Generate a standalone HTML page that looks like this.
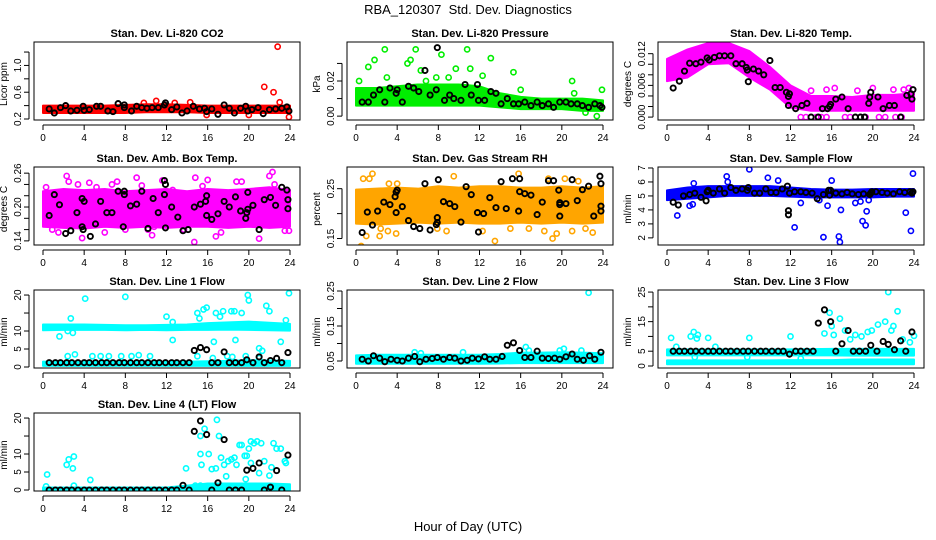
<!DOCTYPE html>
<html><head><meta charset="utf-8"><style>
body{margin:0;background:#fff;}
svg{display:block;font-family:"Liberation Sans",sans-serif;}
</style></head><body>
<svg id="c" width="936" height="540" viewBox="0 0 936 540">
<text x="468" y="14" text-anchor="middle" font-size="13">RBA_120307&#160; Std. Dev. Diagnostics</text>
<text x="468" y="531" text-anchor="middle" font-size="13">Hour of Day (UTC)</text>
</svg>
<script>
const xTicks=[0,4,8,12,16,20,24];
const bandH=[0,2,4,6,8,10,12,14,16,18,20,22,24];
const hrs=[0.6,1.2,1.7,2.3,2.8,3.4,4.0,4.5,5.1,5.7,6.2,6.8,7.4,7.9,8.5,9.1,9.6,10.2,10.8,11.3,11.9,12.5,13.0,13.6,14.2,14.7,15.3,15.9,16.4,17.0,17.6,18.1,18.7,19.3,19.8,20.4,21.0,21.5,22.1,22.7,23.2,23.8];

const p1Lo=[0.29,0.29,0.29,0.29,0.29,0.30,0.30,0.30,0.29,0.29,0.29,0.29,0.29];
const p1Hi=[0.40,0.40,0.40,0.40,0.41,0.42,0.42,0.41,0.40,0.40,0.40,0.40,0.40];
const p1Pts=[[21.5,0.68],[22.4,0.6],[22.8,1.28],[23,0.45],[23.9,0.23],[11,0.47],[14.3,0.45],[9.8,0.44],[15.9,0.26],[20,0.26],[12.8,0.44]];
const p1Blk=[[0.6,0.35],[1.1,0.29],[1.7,0.37],[2.2,0.4],[2.7,0.32],[3.3,0.33],[3.9,0.39],[4,0.33],[4.5,0.34],[5.2,0.39],[5.6,0.39],[6.3,0.32],[6.8,0.31],[7.3,0.43],[7.9,0.41],[7.9,0.37],[8.6,0.32],[9.1,0.39],[9.6,0.37],[10.1,0.36],[10.6,0.37],[11.2,0.37],[11.8,0.41],[11.9,0.44],[12.5,0.34],[13,0.38],[13.5,0.29],[14,0.32],[14.6,0.39],[15.2,0.35],[15.7,0.36],[15.9,0.31],[16.4,0.35],[17,0.27],[17.6,0.41],[18.1,0.36],[18.6,0.29],[19.2,0.36],[19.7,0.39],[19.9,0.32],[20.3,0.34],[20.9,0.37],[21.4,0.28],[22,0.34],[22.6,0.35],[23.2,0.36],[23.7,0.38],[23.9,0.32]];

const p2Lo=[0.006,0.006,0.006,0.006,0.006,0.006,0.006,0.005,0.004,0.004,0.004,0.003,0.003];
const p2Hi=[0.016,0.016,0.017,0.018,0.018,0.018,0.017,0.013,0.011,0.010,0.010,0.010,0.009];
const p2Pts=[[2.8,0.038],[5.8,0.038],[10.8,0.038],[8.3,0.035],[5.3,0.032],[5,0.03],[1.8,0.032],[1.2,0.028],[6.3,0.026],[9.7,0.027],[11.1,0.027],[13.1,0.033],[15.3,0.025],[12.3,0.023],[7.8,0.022],[3,0.022],[0.3,0.02],[16,0.015],[21,0.02],[21.2,0.013],[23.9,0.015],[23.4,0],[22.3,0.002],[9,0.022],[6.8,0.02]];
const p2Blk=[[0.6,0.008],[1.2,0.008],[1.7,0.012],[2.3,0.015],[2.8,0.008],[3.3,0.016],[3.9,0.013],[4,0.015],[4.5,0.008],[5.1,0.017],[5.6,0.016],[6.1,0.014],[6.7,0.026],[7.2,0.012],[7.8,0.015],[7.9,0.039],[8.6,0.009],[9.1,0.012],[9.5,0.01],[10.2,0.009],[10.6,0.018],[11.2,0.012],[11.8,0.018],[11.9,0.009],[12.5,0.009],[13.1,0.014],[13.6,0.013],[14.1,0.007],[14.7,0.01],[15.3,0.007],[15.8,0.007],[16.4,0.008],[17,0.006],[17.6,0.008],[18.1,0.006],[18.7,0.007],[19.2,0.005],[19.8,0.008],[20.4,0.008],[20.9,0.007],[21.5,0.007],[22,0.006],[22.6,0.005],[23.2,0.007],[23.7,0.006],[23.9,0.005]];

const p3Lo=[0.0068,0.0075,0.0100,0.0102,0.0075,0.0052,0.0018,0.0012,0.0012,0.0012,0.0012,0.0012,0.0012];
const p3Hi=[0.0110,0.0128,0.0140,0.0140,0.0125,0.0095,0.0060,0.0040,0.0040,0.0038,0.0042,0.0042,0.0045];
const p3Pts=[[13,0],[13.5,0],[14,0],[14.5,0],[15,0],[15.5,0],[17.3,0],[17.8,0],[18.3,0],[18.8,0],[19.3,0],[20.6,0],[21.2,0],[22.2,0],[22.8,0],[14,0.005],[15.5,0.0052],[16.3,0.0055],[18.5,0.005],[20,0.0055],[22,0.0052],[23.5,0.0055],[23,0.0052]];
const p3Blk=[[0.6,0.0055],[1.2,0.0068],[1.7,0.0087],[2.2,0.0102],[2.8,0.0101],[3.3,0.0104],[3.9,0.0112],[4.1,0.0108],[4.6,0.0113],[5.1,0.0116],[5.6,0.0116],[6.2,0.0116],[6.7,0.0101],[7.3,0.0101],[7.7,0.0094],[7.8,0.0089],[7.9,0.0067],[8.4,0.0091],[8.9,0.0087],[9.4,0.008],[10,0.0107],[10.5,0.0056],[11,0.0056],[11.6,0.0047],[11.8,0.0039],[11.9,0.0044],[11.8,0.0022],[12.5,0.0016],[13.1,0.0022],[13.6,0.0026],[14,0],[14.7,0],[15.1,0.0016],[15.6,0.0016],[15.8,0.002],[15.9,0.0024],[16.4,0.0034],[17,0.0038],[17.6,0.0016],[18.3,0],[18.8,0],[19.2,0],[19.6,0.0026],[19.7,0.0038],[19.8,0.0047],[20.5,0.0038],[21,0.0016],[21.6,0.0022],[22.1,0.0022],[22.7,0],[23.3,0.0041],[23.7,0.0044],[23.8,0.0034],[23.9,0.0052]];

const p4Lo=[0.165,0.163,0.162,0.165,0.163,0.165,0.163,0.165,0.165,0.163,0.165,0.163,0.165];
const p4Hi=[0.228,0.232,0.230,0.232,0.228,0.230,0.232,0.228,0.232,0.230,0.232,0.235,0.230];
const p4Pts=[[0.3,0.235],[0.9,0.16],[1.5,0.155],[2.3,0.255],[2.5,0.245],[3.4,0.24],[3.8,0.145],[4.5,0.243],[5.2,0.235],[6,0.155],[6.7,0.24],[7.2,0.245],[8,0.16],[9.1,0.252],[9.6,0.238],[10.2,0.16],[10.6,0.15],[11.6,0.247],[13.7,0.16],[14.7,0.138],[14.8,0.252],[15.5,0.237],[16,0.248],[16.8,0.148],[18.8,0.245],[19.3,0.245],[21,0.144],[22,0.255],[22.3,0.262],[22.5,0.24],[23.5,0.158],[23.9,0.158],[12.6,0.23],[10.8,0.165],[17.3,0.155]];
const p4Blk=[[0.6,0.185],[1.1,0.222],[1.6,0.204],[2.2,0.153],[2.7,0.158],[3.3,0.19],[3.8,0.165],[3.8,0.215],[3.9,0.16],[4.0,0.21],[4.6,0.148],[5.1,0.17],[5.6,0.21],[6.2,0.19],[6.7,0.19],[7.3,0.228],[7.8,0.165],[7.9,0.222],[7.9,0.228],[8.5,0.202],[9.1,0.205],[9.6,0.228],[10.2,0.162],[10.7,0.215],[11.2,0.19],[11.8,0.247],[11.9,0.24],[11.8,0.222],[11.9,0.163],[12.5,0.2],[13.1,0.182],[13.6,0.158],[14.1,0.16],[14.7,0.2],[15.3,0.205],[15.8,0.21],[15.9,0.22],[15.9,0.185],[16.4,0.178],[17,0.188],[17.6,0.21],[18.1,0.2],[18.7,0.218],[19.2,0.193],[19.7,0.18],[19.8,0.19],[19.9,0.196],[19.9,0.226],[20.4,0.203],[21,0.16],[21.5,0.213],[22.1,0.217],[22.6,0.203],[23.2,0.235],[23.7,0.23],[23.8,0.197],[23.8,0.213]];

const p5Lo=[0.180,0.178,0.180,0.182,0.180,0.182,0.180,0.180,0.182,0.180,0.182,0.180,0.182];
const p5Hi=[0.248,0.250,0.252,0.250,0.255,0.252,0.255,0.255,0.252,0.252,0.255,0.252,0.255];
const p5Pts=[[0.5,0.135],[0.7,0.27],[1,0.155],[1.6,0.28],[1.3,0.27],[2.3,0.155],[2.4,0.17],[3.2,0.26],[3.2,0.13],[3.1,0.165],[3.9,0.16],[4,0.26],[7.9,0.17],[8.8,0.165],[9.5,0.275],[12.3,0.165],[13.5,0.145],[15,0.17],[15.8,0.28],[16.8,0.17],[18.3,0.165],[18.7,0.27],[19.1,0.15],[19.5,0.16],[20.3,0.27],[21,0.165],[21.6,0.265],[22.3,0.17],[23,0.162]];
const p5Blk=[[0.6,0.162],[1.1,0.203],[1.6,0.177],[2.1,0.205],[2.7,0.223],[3.3,0.218],[3.8,0.234],[3.9,0.243],[4,0.247],[3.9,0.202],[4.5,0.214],[5.1,0.186],[5.6,0.174],[6.2,0.17],[6.7,0.26],[7.2,0.167],[7.8,0.178],[7.9,0.182],[7.9,0.192],[8,0.268],[8.5,0.224],[9.1,0.22],[9.6,0.214],[10.2,0.183],[10.7,0.254],[11.2,0.238],[11.8,0.202],[11.9,0.163],[12.4,0.2],[13,0.232],[13.6,0.212],[14.1,0.264],[14.6,0.21],[15.2,0.27],[15.8,0.205],[15.9,0.27],[15.9,0.244],[16.4,0.24],[17,0.237],[17.6,0.198],[18.1,0.223],[18.7,0.266],[19.2,0.266],[19.7,0.247],[19.8,0.218],[19.8,0.195],[19.8,0.222],[20.4,0.22],[21,0.268],[21.5,0.226],[22,0.248],[22.6,0.255],[23.1,0.195],[23.7,0.275],[23.8,0.26],[23.8,0.205],[23.8,0.215]];

const p6Lo=[4.7,4.8,4.9,5.0,5.0,5.0,4.95,4.9,4.9,4.9,4.9,4.95,4.95];
const p6Hi=[5.4,5.6,5.7,5.7,5.7,5.7,5.6,5.5,5.45,5.45,5.5,5.5,5.5];
const p6Pts=[[1,3.6],[2.2,4.3],[2.5,4.4],[5.8,6.4],[8,6.9],[9.8,6.3],[10.8,6.1],[12.4,2.75],[13,4.5],[15.2,2.05],[15.6,4.3],[16,6.1],[16.7,2.1],[16.8,1.7],[16.9,4],[18.3,4.5],[19,3.2],[19.3,2.9],[19.4,3.9],[23.2,3.8],[23.7,2.5],[23.9,6.6],[14.8,4.7],[18.8,4.6],[19.6,4.7],[2.6,5.9],[5.9,6.0]];
const p6Blk=[[0.6,4.55],[1.1,4.35],[1.6,5],[2.2,5.1],[2.7,5.2],[3.3,4.9],[3.8,4.65],[3.9,5.3],[4,5.4],[4.5,5.2],[5.1,5.5],[5.6,5.2],[6.2,5.6],[6.7,5.4],[7.3,5.5],[7.8,5.4],[7.9,5.6],[8.5,5.2],[9,5.2],[9.6,5.5],[10.1,5.25],[10.6,5.25],[11.2,5.5],[11.7,5.7],[11.8,3.95],[11.8,3.65],[11.9,5.2],[12.4,5.3],[13,5.3],[13.5,5.25],[14.1,5.2],[14.6,4.8],[15.2,5.1],[15.7,5.4],[15.8,5.05],[15.9,5.4],[16.4,5.2],[17,5.15],[17.5,5.25],[18,5.15],[18.6,5.1],[19.1,5.15],[19.7,5.1],[19.8,5.2],[19.9,5.3],[20.3,5.3],[20.9,5.25],[21.4,5.2],[22,5.15],[22.6,5.3],[23.1,5.25],[23.6,5.3],[23.8,5.2],[23.9,5.3]];

const p7Lo=[10.2,10.3,10.3,10.3,10.2,10.3,10.2,10.3,10.3,10.4,10.3,10.2,10.1];
const p7Hi=[11.8,11.8,11.8,11.7,11.6,11.6,11.7,11.8,12.2,12.4,12.6,12.3,12.0];
const p7Lo2=[0.3,0.3,0.3,0.3,0.3,0.3,0.3,0.3,0.3,0.3,0.3,0.3,0.3];
const p7Hi2=[1.5,1.4,1.4,1.4,1.4,1.4,1.4,1.5,1.6,1.7,1.9,1.8,1.7];
const p7Pts=[[4.1,19],[8,19.5],[2.7,13.5],[2.4,10],[2.9,9.5],[1.6,8.5],[12,14],[12.6,12.5],[12.6,7.5],[15,15],[15.2,13.5],[15.6,16],[15.9,16.5],[16.6,7],[16.8,15],[17.2,14],[17.5,15.5],[18.3,15.5],[18.6,15.5],[18.7,7.5],[19.3,15],[19.9,20],[20,18.5],[21.7,17],[22,15.5],[23.1,7],[23.6,13],[23.9,20.5],[2.4,3],[3.1,3.5],[4.8,3],[5.6,3],[6.4,3],[7.6,3],[8.6,3],[9.3,3.3],[10.4,3],[15,3],[17.9,3],[18.4,2.8],[19.7,3],[21,5.2],[21.3,4.5],[21,2.5],[16.5,2.5]];
const p7BlkY=[1.2,1.2,1.2,1.2,1.2,1.2,1.2,1.2,1.2,1.2,1.2,1.2,1.2,1.2,1.2,1.2,1.2,1.2,1.2,1.2,1.2,1.2,1.2,1.2,1.2,4.6,5.4,4.8,1.2,1.2,4.2,1.2,1.2,1.2,2.0,1.2,2.8,1.2,1.8,2.4,1.2,4.0];

const p8Lo=[0.042,0.042,0.042,0.042,0.042,0.042,0.042,0.043,0.044,0.044,0.044,0.044,0.044];
const p8Hi=[0.066,0.068,0.068,0.068,0.068,0.068,0.068,0.070,0.074,0.074,0.075,0.074,0.072];
const p8Pts=[[22.6,0.245],[16.5,0.09],[15.9,0.08],[16.8,0.08],[19.8,0.08],[20.2,0.085],[21.9,0.08],[5.7,0.075],[10.4,0.075],[6.3,0.072]];
const p8BlkY=[0.055,0.05,0.065,0.058,0.048,0.055,0.052,0.05,0.058,0.063,0.048,0.055,0.057,0.06,0.055,0.06,0.058,0.05,0.052,0.058,0.056,0.062,0.055,0.055,0.063,0.095,0.102,0.08,0.06,0.06,0.078,0.058,0.057,0.058,0.055,0.062,0.07,0.055,0.052,0.065,0.055,0.075];

const p9Lo=[3.6,3.6,3.6,3.6,3.6,3.6,3.6,3.6,3.6,3.5,3.5,3.5,3.5];
const p9Hi=[5.6,5.6,5.6,5.6,5.6,5.6,5.6,5.7,5.8,5.8,5.8,5.8,5.8];
const p9Lo2=[0.6,0.6,0.6,0.6,0.6,0.6,0.6,0.6,0.6,0.6,0.6,0.6,0.6];
const p9Hi2=[1.9,1.9,1.9,1.9,1.9,1.9,2.0,2.0,2.0,2.2,2.2,2.2,2.2];
const p9Pts=[[0.4,9.5],[0.9,6.5],[2.3,10],[2.6,11.5],[2.9,9.3],[3,10.5],[4,9.5],[8,9.5],[12,10],[15.3,11],[15.8,18],[16.2,10.5],[16.8,16],[17.3,12],[17.8,9],[18.3,10.5],[18.9,10],[19.5,11.5],[19.9,12],[20.5,14],[21.2,15],[21.5,25],[21.8,12],[22,13.5],[22.4,18.5],[22.9,9],[23.6,8],[24,10.2],[4.7,6.5],[16,13.5],[2.7,3],[7.8,3],[13,2.5]];
const p9BlkY=[5,5,5,5,5,5,5,5,5,5,5,5,5,5,5,5,5,5,5,5,4,5,5,5,5,14.5,19,15,5,7.5,12,5,5,5,7,5,8.3,7.3,5.5,8.5,5,11.5];

const p10Lo=[0,0,0,0,0,0,0,0,0,0,0,0,0];
const p10Hi=[0.7,0.7,0.7,0.7,0.7,0.7,0.7,1.2,1.8,1.8,1.8,1.8,1.6];
const p10Pts=[[0.4,4.3],[0.3,1],[2.3,7],[2.5,8.5],[3,9.3],[2.9,6],[3,1.2],[4.6,2.8],[13.9,6],[15.3,10],[15.4,7],[15.3,15],[15.7,17],[16.1,10],[16.4,5.8],[16.8,6],[16.9,19.5],[17.1,15],[17.3,9],[17.6,7],[17.8,3.8],[18,8],[18.3,8.5],[18.6,9],[18.8,7],[19.1,12.5],[19.3,12.5],[19.6,9.5],[19.8,9.5],[19.7,3],[20,11.5],[20.2,7.5],[20.2,13.5],[20.5,13],[20.8,13.5],[21,4.7],[21.2,13],[21.5,8],[22,4],[22.2,6.3],[22.4,13],[22.7,11.5],[23.1,11.5],[23.5,8],[23.6,7.5],[14.8,1.2],[15.3,1.2]];
const p10BlkY=[0,0,0,0,0,0,0,0,0,0,0,0,0,0,0,0,0,0,0,0,0,0,0,1.3,0,16.3,19.2,15.4,0,2,14,0,0,0,5.5,6,7.5,0,0.8,5.4,0,9.7];

const NS='http://www.w3.org/2000/svg';
const svg=document.getElementById('c');
const colL=[34,347,658], rowT=[42,167,290,413], BW=266, BH=78;
function mk(t,a,p){const e=document.createElementNS(NS,t);for(const k in a)e.setAttribute(k,a[k]);(p||svg).appendChild(e);return e;}
function zip(xs,ys){return xs.map((x,i)=>[x,ys[i]]);}

const panels=[
 {c:0,r:0,t:'Stan. Dev. Li-820 CO2',yl:'Licor ppm',y0:0.185,y1:1.35,yt:[0.2,0.4,0.6,0.8,1.0,1.2],lab:['0.2','','0.6','','1.0',''],col:'#ff0000',bands:[[p1Lo,p1Hi]],pts:p1Pts,blk:p1Blk},
 {c:1,r:0,t:'Stan. Dev. Li-820 Pressure',yl:'kPa',y0:-0.0022,y1:0.0422,yt:[0,0.01,0.02,0.03],lab:['0.00','','0.02',''],col:'#00ee00',bands:[[p2Lo,p2Hi]],pts:p2Pts,blk:p2Blk},
 {c:2,r:0,t:'Stan. Dev. Li-820 Temp.',yl:'degrees C',y0:-0.00055,y1:0.01421,yt:[0,0.002,0.004,0.006,0.008,0.01,0.012],lab:['0.000','','','0.006','','','0.012'],col:'#ff00ff',bands:[[p3Lo,p3Hi]],pts:p3Pts,blk:p3Blk},
 {c:0,r:1,t:'Stan. Dev. Amb. Box Temp.',yl:'degrees C',y0:0.1327,y1:0.2709,yt:[0.14,0.16,0.18,0.2,0.22,0.24,0.26],lab:['0.14','','','0.20','','','0.26'],col:'#ff00ff',bands:[[p4Lo,p4Hi]],pts:p4Pts,blk:p4Blk},
 {c:1,r:1,t:'Stan. Dev. Gas Stream RH',yl:'percent',y0:0.137,y1:0.2935,yt:[0.15,0.2,0.25],lab:['0.15','','0.25'],col:'#ffa500',bands:[[p5Lo,p5Hi]],pts:p5Pts,blk:p5Blk},
 {c:2,r:1,t:'Stan. Dev. Sample Flow',yl:'ml/min',y0:1.49,y1:7.07,yt:[2,3,4,5,6,7],lab:['2','3','4','5','6','7'],col:'#0000ff',bands:[[p6Lo,p6Hi]],pts:p6Pts,blk:p6Blk},
 {c:0,r:2,t:'Stan. Dev. Line 1 Flow',yl:'ml/min',y0:-0.28,y1:21.4,yt:[0,5,10,15,20],lab:['0','5','10','','20'],col:'#00ffff',bands:[[p7Lo,p7Hi],[p7Lo2,p7Hi2]],pts:p7Pts,blk:zip(hrs,p7BlkY)},
 {c:1,r:2,t:'Stan. Dev. Line 2 Flow',yl:'ml/min',y0:0.03,y1:0.2529,yt:[0.05,0.1,0.15,0.2,0.25],lab:['0.05','','0.15','','0.25'],col:'#00ffff',bands:[[p8Lo,p8Hi]],pts:p8Pts,blk:zip(hrs,p8BlkY)},
 {c:2,r:2,t:'Stan. Dev. Line 3 Flow',yl:'ml/min',y0:-0.68,y1:25.7,yt:[0,5,10,15,20,25],lab:['0','5','','15','','25'],col:'#00ffff',bands:[[p9Lo,p9Hi],[p9Lo2,p9Hi2]],pts:p9Pts,blk:zip(hrs,p9BlkY)},
 {c:0,r:3,t:'Stan. Dev. Line 4 (LT) Flow',yl:'ml/min',y0:-0.28,y1:21.4,yt:[0,5,10,15,20],lab:['0','5','10','','20'],col:'#00ffff',bands:[[p10Lo,p10Hi]],pts:p10Pts,blk:zip(hrs,p10BlkY)}
];

panels.forEach((p,pi)=>{
  const L=colL[p.c],T=rowT[p.r];
  const X=h=>L+9+h*247/24;
  const Y=v=>T+BH-(v-p.y0)/(p.y1-p.y0)*BH;
  const g=mk('g',{});
  
  
  const tt=mk('text',{x:L+BW/2,y:T-5,'text-anchor':'middle','font-size':'11','font-weight':'bold'},g);tt.textContent=p.t;
  
  
  const cp=mk('clipPath',{id:'cp'+pi},g);mk('rect',{x:L,y:T,width:BW,height:BH},cp);
  const d=mk('g',{'clip-path':'url(#cp'+pi+')'},g);
  p.bands.forEach(b=>{
    let pts=bandH.map((h,i)=>X(h)+','+Y(b[1][i])).concat(bandH.slice().reverse().map((h,j)=>{const i=bandH.length-1-j;return X(h)+','+Y(b[0][i]);}));
    const e=mk('polygon',{points:pts.join(' '),fill:p.col,stroke:p.col,'stroke-width':2,'stroke-linejoin':'round'},d);
    
    
  });
  p.pts.forEach(q=>{const e=mk('circle',{cx:X(q[0]),cy:Y(q[1]),r:2.6,fill:'none',stroke:p.col,'stroke-width':1.6},d);
    
    });
  p.blk.forEach(q=>{const e=mk('circle',{cx:X(q[0]),cy:Y(q[1]),r:2.6,fill:'none',stroke:'#000','stroke-width':1.9},d);
    
    });
  mk('rect',{x:L,y:T,width:BW,height:BH,fill:'none',stroke:'#000','stroke-width':1},g);
  const B=T+BH;
  mk('line',{x1:X(0),x2:X(24),y1:B+5,y2:B+5,stroke:'#000'},g);
  xTicks.forEach(h=>{mk('line',{x1:X(h),x2:X(h),y1:B+5,y2:B+10,stroke:'#000'},g);
    const t=mk('text',{x:X(h),y:B+21,'text-anchor':'middle','font-size':'10'},g);t.textContent=h;
    
    });
  const ya=p.yt.map(Y);
  mk('line',{x1:L-5,x2:L-5,y1:Math.min(...ya),y2:Math.max(...ya),stroke:'#000'},g);
  p.yt.forEach((v,i)=>{const y=Y(v);mk('line',{x1:L-10,x2:L-5,y1:y,y2:y,stroke:'#000'},g);
    if(p.lab[i]){const t=mk('text',{x:L-13,y:y,'text-anchor':'middle','font-size':'10',transform:'rotate(-90 '+(L-13)+' '+y+')'},g);t.textContent=p.lab[i];
    
    }});
  const yx=L-27,yy=T+BH/2;
  const yt=mk('text',{x:yx,y:yy+3,'text-anchor':'middle','font-size':'10',transform:'rotate(-90 '+yx+' '+(yy+3)+')'},g);yt.textContent=p.yl;
  
  
});
</script>
</body></html>
